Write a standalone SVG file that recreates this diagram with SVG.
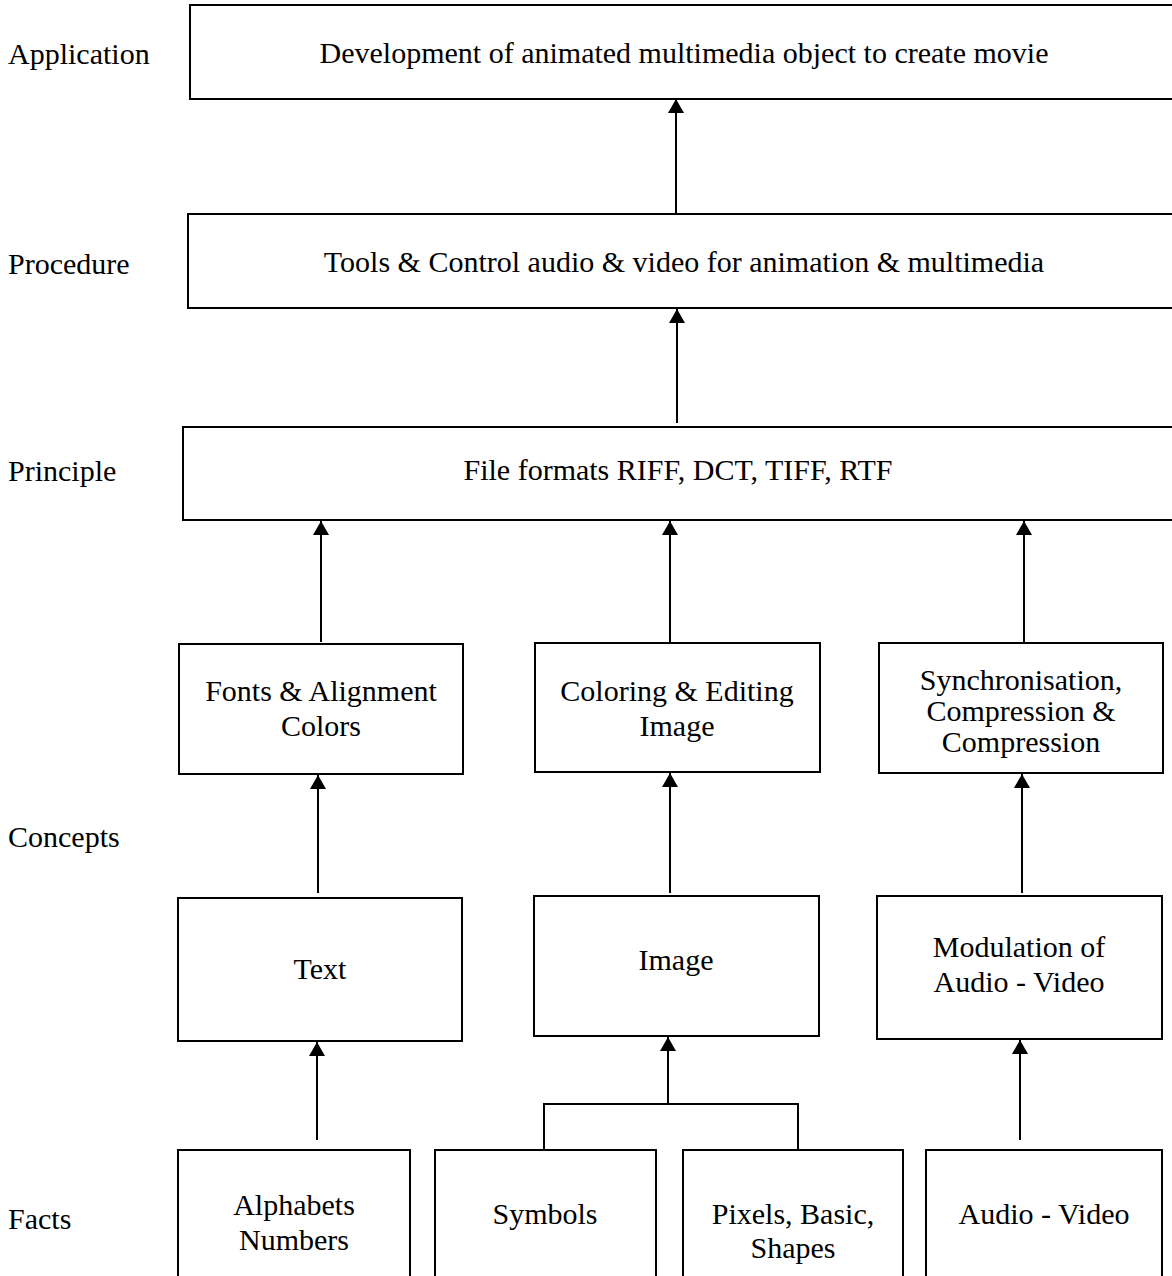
<svg xmlns="http://www.w3.org/2000/svg" width="1172" height="1276" viewBox="0 0 1172 1276">
<defs>
<marker id="ah" viewBox="0 0 14 16" refX="14" refY="8" markerWidth="14" markerHeight="16" markerUnits="userSpaceOnUse" orient="auto">
<path d="M0,0 L14,8 L0,16 Z" fill="#000"/>
</marker>
<style>
.box{fill:#fff;stroke:#000;stroke-width:2}
.t{font-family:"Liberation Serif","Times New Roman",serif;font-size:30px;fill:#000;text-anchor:middle}
.lbl{font-family:"Liberation Serif","Times New Roman",serif;font-size:30px;fill:#000}
.c{fill:none;stroke:#000;stroke-width:2}
.a{fill:none;stroke:#000;stroke-width:2;marker-end:url(#ah)}
</style>
</defs>
<rect width="1172" height="1276" fill="#fff"/>
<g id="labels">
<text class="lbl" x="8" y="64">Application</text>
<text class="lbl" x="8" y="274">Procedure</text>
<text class="lbl" x="8" y="481">Principle</text>
<text class="lbl" x="8" y="847">Concepts</text>
<text class="lbl" x="8" y="1229">Facts</text>
</g>
<g id="application"><rect class="box" x="190" y="5" width="990" height="94"/><text class="t" x="684" y="63">Development of animated multimedia object to create movie</text></g>
<g id="procedure"><rect class="box" x="188" y="214" width="990" height="94"/><text class="t" x="684" y="272">Tools &amp; Control audio &amp; video for animation &amp; multimedia</text></g>
<g id="principle"><rect class="box" x="183" y="427" width="995" height="93"/><text class="t" x="678" y="480">File formats RIFF, DCT, TIFF, RTF</text></g>
<g id="fonts"><rect class="box" x="179" y="644" width="284" height="130"/><text class="t" x="321" y="701">Fonts &amp; Alignment</text><text class="t" x="321" y="736">Colors</text></g>
<g id="coloring"><rect class="box" x="535" y="643" width="285" height="129"/><text class="t" x="677" y="701">Coloring &amp; Editing</text><text class="t" x="677" y="736">Image</text></g>
<g id="sync"><rect class="box" x="879" y="643" width="284" height="130"/><text class="t" x="1021" y="690">Synchronisation,</text><text class="t" x="1021" y="721">Compression &amp;</text><text class="t" x="1021" y="752">Compression</text></g>
<g id="text"><rect class="box" x="178" y="898" width="284" height="143"/><text class="t" x="320" y="979">Text</text></g>
<g id="image"><rect class="box" x="534" y="896" width="285" height="140"/><text class="t" x="676" y="970">Image</text></g>
<g id="modulation"><rect class="box" x="877" y="896" width="285" height="143"/><text class="t" x="1019" y="957">Modulation of</text><text class="t" x="1019" y="992">Audio - Video</text></g>
<g id="alphabets"><rect class="box" x="178" y="1150" width="232" height="140"/><text class="t" x="294" y="1215">Alphabets</text><text class="t" x="294" y="1250">Numbers</text></g>
<g id="symbols"><rect class="box" x="435" y="1150" width="221" height="140"/><text class="t" x="545" y="1224">Symbols</text></g>
<g id="pixels"><rect class="box" x="683" y="1150" width="220" height="140"/><text class="t" x="793" y="1224">Pixels, Basic,</text><text class="t" x="793" y="1258">Shapes</text></g>
<g id="audiovideo"><rect class="box" x="926" y="1150" width="236" height="140"/><text class="t" x="1044" y="1224">Audio - Video</text></g>
<g id="connectors">
<line class="a" x1="676" y1="213" x2="676" y2="99"/>
<line class="a" x1="677" y1="423" x2="677" y2="309"/>
<line class="a" x1="321" y1="642" x2="321" y2="521"/>
<line class="a" x1="670" y1="642" x2="670" y2="521"/>
<line class="a" x1="1024" y1="642" x2="1024" y2="521"/>
<line class="a" x1="318" y1="893" x2="318" y2="775"/>
<line class="a" x1="670" y1="893" x2="670" y2="773"/>
<line class="a" x1="1022" y1="893" x2="1022" y2="774"/>
<line class="a" x1="317" y1="1140" x2="317" y2="1042"/>
<polyline class="c" points="544,1150 544,1104 798,1104 798,1150"/>
<line class="a" x1="668" y1="1104" x2="668" y2="1037"/>
<line class="a" x1="1020" y1="1140" x2="1020" y2="1040"/>
</g>
</svg>
